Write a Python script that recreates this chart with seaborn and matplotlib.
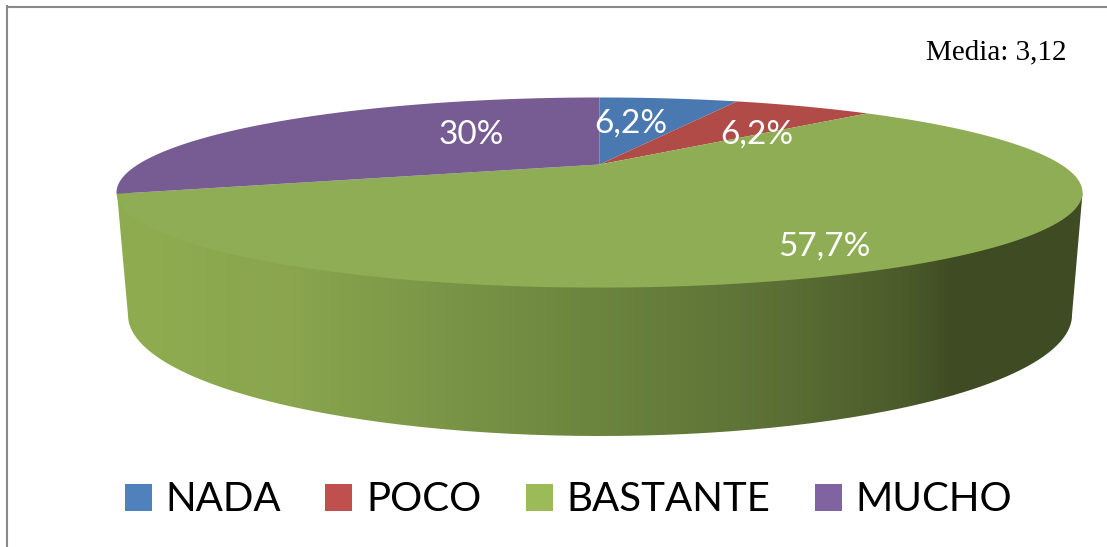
import numpy as np
import matplotlib
matplotlib.use("Agg")
import matplotlib.pyplot as plt
import seaborn as sns
from matplotlib.colors import LinearSegmentedColormap
from matplotlib.path import Path
from matplotlib.patches import PathPatch, Patch
from matplotlib.transforms import Transform, Affine2D

# ---- data ----
categories = ["NADA", "POCO", "BASTANTE", "MUCHO"]
values = [6.2, 6.2, 57.7, 30.0]
value_labels = ["6,2%", "6,2%", "57,7%", "30%"]
note = "Media: 3,12"

# ---- styles ----
top_colors = ["#4a79b1", "#b04b47", "#8fad54", "#775c93"]
legend_colors = ["#4f81bd", "#c0504d", "#9bbb59", "#8064a2"]
wall_stops = [(0.0, "#8fad50"), (0.18, "#8aa54e"), (0.33, "#7b9647"),
              (0.50, "#6b843e"), (0.68, "#5c7036"), (0.82, "#4a5a2a"),
              (0.87, "#3f4b23"), (1.0, "#3f4b23")]
label_xy = [(631, 124), (757, 135), (824, 247), (471, 135)]

W, H = 1107, 547
sns.set_theme(style="white")
plt.rcParams["font.family"] = ["Lato", "DejaVu Sans"]


class Perspective(Transform):
    """Unit-circle pie seen in perspective, mapped to image pixels."""
    input_dims = output_dims = 2
    is_separable = False
    has_inverse = False

    def __init__(self, cx, cy, sx, sy, k):
        super().__init__()
        self.p = (cx, cy, sx, sy, k)

    def transform_non_affine(self, values):
        cx, cy, sx, sy, k = self.p
        v = np.asarray(values, float)
        d = 1 + k * v[:, 1]
        return np.column_stack([cx + sx * v[:, 0] / d, cy - sy * v[:, 1] / d])

    def transform_path_non_affine(self, path):
        # flatten the curves at a large scale so the arcs stay smooth
        zoom = 2000.0
        polys = path.to_polygons(Affine2D().scale(zoom), closed_only=False)
        return Path(self.transform_non_affine(polys[0] / zoom))


fig = plt.figure(figsize=(W / 100, H / 100), dpi=100, facecolor="white")
edge = 6.5
ax = fig.add_axes([edge / W, 0, 1 - edge / W, 1 - edge / H])
ax.set_facecolor("white")

# side wall: gradient clipped to the outline of the lower rim
t = np.linspace(np.pi, 0, 200)
rim = np.column_stack([600 + 472 * np.cos(t), 315 + 121 * np.sin(t)])
outline = np.vstack([[(117, 193)], rim, [(1082.5, 193)], [(117, 193)]])
cmap = LinearSegmentedColormap.from_list("wall", wall_stops)
grad = np.linspace(0, 1, 512)[None, :]
im = ax.imshow(grad, cmap=cmap, extent=(117, 1083, 440, 190), aspect="auto", zorder=1)
clip = PathPatch(Path(outline), transform=ax.transData, facecolor="none", edgecolor="none")
ax.add_patch(clip)
im.set_clip_path(clip)

# top face
wedges, _ = ax.pie(values, colors=sns.color_palette(top_colors), startangle=90,
                   counterclock=False, radius=1, wedgeprops=dict(linewidth=0))
proj = Perspective(599.5, 164.5, 461.5, 86.8, 0.295)
for w in wedges:
    w.set_transform(proj + ax.transData)
    w.set_zorder(2)

ax.set_aspect("auto")
ax.set_xlim(edge, W)
ax.set_ylim(H, edge)
ax.set_xticks([])
ax.set_yticks([])

ax.set_frame_on(True)
for s in ("right", "bottom"):
    ax.spines[s].set_visible(False)
for s in ("left", "top"):
    ax.spines[s].set_visible(True)
    ax.spines[s].set_color("#898989")
    ax.spines[s].set_linewidth(1.5)

for lab, (x, y) in zip(value_labels, label_xy):
    ax.text(x, y, lab, color="white", fontsize=24, ha="center", va="center", zorder=3)

ax.text(1066, 52, note, family="Liberation Serif", color="black", fontsize=21,
        ha="right", va="center", zorder=3)

handles = [Patch(facecolor=c, edgecolor="none") for c in sns.color_palette(legend_colors)]
ax.legend(handles, categories, ncol=4, frameon=False, fontsize=29, labelcolor="black",
          handlelength=0.67, handleheight=0.67, handletextpad=0.345, columnspacing=1.1,
          loc="center", bbox_to_anchor=(568.5, 500), bbox_transform=ax.transData,
          borderpad=0, borderaxespad=0)

fig.savefig("out.png", dpi=100, facecolor="white")
